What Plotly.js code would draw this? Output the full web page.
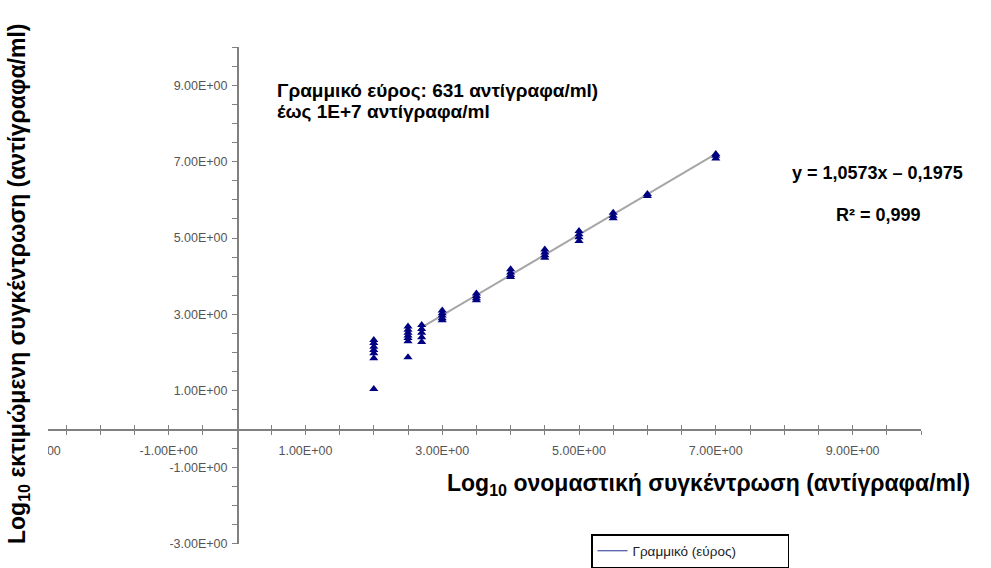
<!DOCTYPE html>
<html>
<head>
<meta charset="utf-8">
<script src="https://cdn.plot.ly/plotly-3.0.1.min.js"></script>
<style>html,body{margin:0;padding:0;background:#fff;}#chart{width:991px;height:568px;}</style>
</head>
<body>
<div id="chart"></div>
<script>
// Observed points: nominal log10 concentration vs estimated log10 concentration
const nominalLog = [
  2, 2, 2, 2, 2, 2, 2,
  2.5, 2.5, 2.5, 2.5, 2.5, 2.5, 2.5,
  2.7, 2.7, 2.7, 2.7, 2.7,
  3, 3, 3, 3, 3,
  3.5, 3.5, 3.5, 3.5,
  4, 4, 4, 4,
  4.5, 4.5, 4.5, 4.5,
  5, 5, 5, 5,
  5.5, 5.5, 5.5,
  6, 6,
  7, 7, 7
];
const estimatedLog = [
  2.33, 2.25, 2.15, 2.07, 1.98, 1.85, 1.05,
  2.68, 2.60, 2.52, 2.45, 2.38, 2.30, 1.88,
  2.72, 2.62, 2.52, 2.40, 2.28,
  3.10, 3.03, 2.97, 2.90, 2.85,
  3.55, 3.48, 3.42, 3.37,
  4.18, 4.10, 4.03, 3.98,
  4.70, 4.62, 4.55, 4.48,
  5.18, 5.10, 5.02, 4.92,
  5.66, 5.58, 5.52,
  6.15, 6.10,
  7.20, 7.15, 7.08
];
// Linear fit line end points
const fitX = [2.7, 7.0];
const fitY = [2.66, 7.20];

// Axis tick labels
const xTickVals = [-3, -1, 1, 3, 5, 7, 9];
const xTickText = ["-3.00E+00", "-1.00E+00", "1.00E+00", "3.00E+00", "5.00E+00", "7.00E+00", "9.00E+00"];
const yTickVals = [-3, -1, 1, 3, 5, 7, 9];
const yTickText = ["-3.00E+00", "-1.00E+00", "1.00E+00", "3.00E+00", "5.00E+00", "7.00E+00", "9.00E+00"];

const legendName = "Γραμμικό (εύρος)";

const W = 991, H = 568;
const FONT = "Arial, 'Liberation Sans', sans-serif";
const axisGray = "#808080";
const tickFont = {family: FONT, size: 12.5, color: "#555"};

const traces = [
  {
    x: fitX, y: fitY, mode: "lines", type: "scatter",
    line: {color: "#a6a6a6", width: 2},
    showlegend: false, hoverinfo: "skip"
  },
  {
    x: nominalLog, y: estimatedLog, mode: "markers", type: "scatter",
    marker: {symbol: "triangle-up", size: 8, color: "#000080"},
    showlegend: false
  },
  {
    x: [null], y: [null], mode: "lines", type: "scatter", xaxis: "x2",
    name: legendName, line: {color: "#1f2f8f", width: 1}, showlegend: true
  }
];

// pixel geometry
const x0px = 237, xUnit = 68.4, y0px = 429, yUnit = 38.2;
const xr = [-3, 10], yr = [-3, 10];
const xdom = [(x0px + xr[0]*xUnit)/W, (x0px + xr[1]*xUnit)/W];
const ydom = [1 - (y0px - yr[0]*yUnit)/H, 1 - (y0px - yr[1]*yUnit)/H];

const xCommon = {
  range: xr, domain: xdom, anchor: "free", position: 1 - y0px/H,
  tickvals: xTickVals, ticklen: 4, tickwidth: 1, tickcolor: axisGray,
  minor: {dtick: 0.5, ticklen: 4, tickwidth: 1, tickcolor: axisGray},
  showgrid: false, zeroline: false
};

const boldFont = (s) => ({family: FONT, size: s, color: "#000", weight: "bold"});

const layout = {
  width: W, height: H,
  margin: {l: 0, r: 0, t: 0, b: 0, pad: 0},
  paper_bgcolor: "#fff", plot_bgcolor: "rgba(0,0,0,0)",
  font: {family: FONT},
  showlegend: true,
  xaxis: Object.assign({}, xCommon, {
    ticks: "outside", ticktext: xTickText, tickmode: "array",
    minor: Object.assign({}, xCommon.minor, {ticks: "outside"}),
    showline: true, linecolor: axisGray, linewidth: 1.5,
    tickfont: tickFont, ticklabelstandoff: 5
  }),
  xaxis2: Object.assign({}, xCommon, {
    overlaying: "x", matches: "x", ticks: "inside",
    minor: Object.assign({}, xCommon.minor, {ticks: "inside"}),
    showticklabels: false, showline: false
  }),
  yaxis: {
    range: yr, domain: ydom, anchor: "free", position: x0px/W,
    tickmode: "array", tickvals: yTickVals, ticktext: yTickText,
    ticks: "outside", ticklen: 5, tickwidth: 1, tickcolor: axisGray,
    minor: {dtick: 0.5, ticks: "outside", ticklen: 5, tickwidth: 1, tickcolor: axisGray},
    showline: true, linecolor: axisGray, linewidth: 1.5,
    showgrid: false, zeroline: false, tickfont: tickFont, ticklabelstandoff: 2
  },
  legend: {
    x: 591/W, y: 1 - 534/H, xanchor: "left", yanchor: "top",
    orientation: "h", entrywidth: 150, entrywidthmode: "pixels",
    bgcolor: "#fff", bordercolor: "#000", borderwidth: 1.5,
    font: {family: FONT, size: 13.5, color: "#222"}
  },
  shapes: [
    {type: "rect", xref: "paper", yref: "paper", x0: 0, x1: 48/W, y0: 0, y1: 1,
     fillcolor: "#fff", line: {width: 0}, layer: "above"}
  ],
  annotations: [
    {text: "Γραμμικό εύρος: 631 αντίγραφα/ml)", xref: "paper", yref: "paper",
     x: 275/W, y: 1 - 90/H, xanchor: "left", yanchor: "middle", align: "left", showarrow: false,
     font: boldFont(19)},
    {text: "έως 1E+7 αντίγραφα/ml", xref: "paper", yref: "paper",
     x: 275/W, y: 1 - 111.5/H, xanchor: "left", yanchor: "middle", align: "left", showarrow: false,
     font: boldFont(19)},
    {text: "y = 1,0573x – 0,1975", xref: "paper", yref: "paper",
     x: 877/W, y: 1 - 173/H, xanchor: "center", yanchor: "middle", showarrow: false,
     font: boldFont(18)},
    {text: "R² = 0,999", xref: "paper", yref: "paper",
     x: 878/W, y: 1 - 215/H, xanchor: "center", yanchor: "middle", showarrow: false,
     font: boldFont(18)},
    {text: "Log<sub>10</sub> ονομαστική συγκέντρωση (αντίγραφα/ml)", xref: "paper", yref: "paper",
     x: 708/W, y: 1 - 484/H, xanchor: "center", yanchor: "middle", showarrow: false,
     font: boldFont(23)},
    {text: "Log<sub>10</sub> εκτιμώμενη συγκέντρωση (αντίγραφα/ml)", xref: "paper", yref: "paper",
     x: 18/W, y: 1 - 284/H, xanchor: "center", yanchor: "middle", textangle: -90, showarrow: false,
     font: boldFont(23)}
  ]
};

Plotly.newPlot("chart", traces, layout, {staticPlot: true, displayModeBar: false});
</script>
</body>
</html>
